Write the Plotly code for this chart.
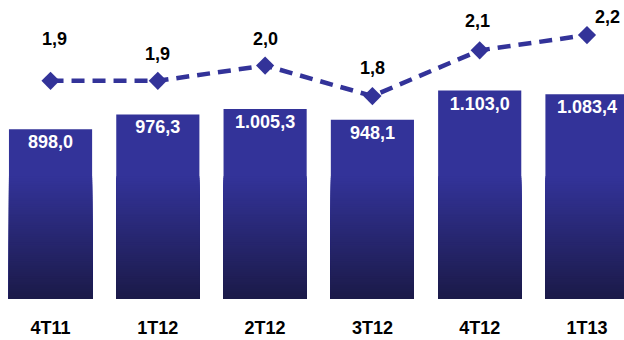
import plotly.graph_objects as go

categories = ["4T11", "1T12", "2T12", "3T12", "4T12", "1T13"]
bar_values = [898.0, 976.3, 1005.3, 948.1, 1103.0, 1083.4]
line_values = [1.9, 1.9, 2.0, 1.8, 2.1, 2.2]

FONT = "Liberation Sans, Arial, sans-serif"
TOP = (51, 51, 153)
BOTTOM = (27, 26, 72)

def shade(level, knee=650.0):
    t = min(level / knee, 1.0)
    return "rgb(%d,%d,%d)" % tuple(round(BOTTOM[i] + (TOP[i] - BOTTOM[i]) * t) for i in range(3))

fig = go.Figure()
# base bars (top colour)
fig.add_trace(go.Bar(x=categories, y=bar_values, marker_color=shade(10000),
                     marker_line_width=0, width=0.775, hoverinfo="skip", showlegend=False))
# gradient layers
levels = list(range(650, 0, -10))
for L in levels:
    fig.add_trace(go.Bar(x=categories, y=[min(v, L) for v in bar_values],
                         marker_color=shade(L - 5), marker_line_width=0,
                         width=0.775, hoverinfo="skip", showlegend=False))
# labels
fig.add_trace(go.Bar(x=categories, y=bar_values, marker_color="rgba(0,0,0,0)",
                     marker_line_width=0,
                     width=0.775, texttemplate="%{y:,.1f}", textposition="inside",
                     insidetextanchor="end", constraintext="none",
                     textfont=dict(family=FONT, size=18, color="white", weight="bold"),
                     hoverinfo="skip", showlegend=False))

fig.add_trace(go.Scatter(x=categories, y=line_values, yaxis="y2", mode="lines+markers",
                         line=dict(color="#333399", width=4.5, dash="13px,8px"),
                         marker=dict(symbol="diamond", size=14, color="#333399"),
                         hoverinfo="skip", showlegend=False))

label_shift = [(4, 42), (0, 27), (0, 27), (0, 28), (-2, 29), (21, 18)]
for c, v, (dx, dy) in zip(categories, line_values, label_shift):
    fig.add_annotation(x=c, y=v, yref="y2", text=f"{v:.1f}".replace(".", ","),
                       showarrow=False, xshift=dx, yshift=dy,
                       font=dict(family=FONT, size=18, color="black", weight="bold"))

fig.update_layout(
    width=624, height=340, barmode="overlay", bargap=0.225,
    separators=",.",
    margin=dict(l=0, r=0, t=0, b=41),
    plot_bgcolor="white", paper_bgcolor="white",
    xaxis=dict(range=[-0.471, 5.345], showgrid=False, showline=False, zeroline=False,
               ticks="outside", ticklen=12, tickcolor="rgba(0,0,0,0)",
               tickfont=dict(family=FONT, size=18, color="black", weight="bold")),
    yaxis=dict(range=[0, 1582], visible=False, showgrid=False, zeroline=False),
    yaxis2=dict(range=[0.469, 2.430], overlaying="y", visible=False, showgrid=False,
                zeroline=False),
)

fig.write_html("out.html")
